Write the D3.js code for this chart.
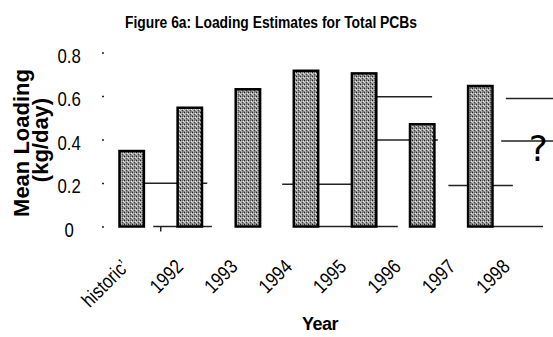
<!DOCTYPE html>
<html>
<head>
<meta charset="utf-8">
<script src="https://cdn.jsdelivr.net/npm/d3@7"></script>
<style>
  html, body { margin: 0; padding: 0; background: #fff; }
  svg { display: block; }
</style>
</head>
<body>
<svg id="chart" width="553" height="337"></svg>
<script>
// Categories and mean PCB loading estimates (kg/day); 1998 is unknown
const categories = ["historic\u2019", "1992", "1993", "1994", "1995", "1996", "1997", "1998"];
const loadings   = [0.347, 0.546, 0.631, 0.716, 0.704, 0.47, 0.646, null];
const yTicks     = [0, 0.2, 0.4, 0.6, 0.8];
const yTickLabels = ["0", "0.2", "0.4", "0.6", "0.8"];

// Reference levels: value and span in category steps (0 = first category centre)
const refLevels = [
  { value: 0.199, from: -0.2, to: 1.3 },
  { value: 0.194, from: 2.59, to: 4.22 },
  { value: 0.597, from: 4.2,  to: 5.17 },
  { value: 0.398, from: 4.2,  to: 5.27 },
  { value: 0.188, from: 5.45, to: 6.56 },
  { value: 0.589, from: 6.44, to: 7.5 },
  { value: 0.393, from: 6.36, to: 7.5 }
];
// Pieces of the zero line, in category steps
const baseLine = [
  { from: 0.37, to: 1.38 },
  { from: 3.0,  to: 4.58 },
  { from: 6.0,  to: 7.08 }
];
const unknownLabel = { category: "1998", value: 0.36, text: "?" };

const svg = d3.select("#chart");

const x = d3.scaleBand()
  .domain(categories)
  .range([102.65, 567.45])
  .paddingInner(0.58)
  .paddingOuter(0.29);
const y = d3.scaleLinear().domain([0, 0.8]).range([226.5, 52.5]);
const step = x.step();
const bw = x.bandwidth();
const x0 = x(categories[0]) + bw / 2;
const xu = u => x0 + u * step;
// Category labels sit on a slightly tighter spacing than the bars
const xLabel = d3.scalePoint().domain(categories).range([130, 511]);

// Dithered grey fill for the bars
const defs = svg.append("defs");
const pat = defs.append("pattern")
  .attr("id", "dither").attr("patternUnits", "userSpaceOnUse")
  .attr("width", 4).attr("height", 4);
pat.append("rect").attr("width", 4).attr("height", 4).attr("fill", "#9c9c9c");
[[0,0,"#222"],[2,2,"#444"],[1,3,"#f2f2f2"],[3,1,"#e4e4e4"],[2,0,"#666"],[0,2,"#d0d0d0"],[1,1,"#bbb"]].forEach(([px,py,c]) =>
  pat.append("rect").attr("x", px).attr("y", py).attr("width", 1).attr("height", 1).attr("fill", c));
pat.append("rect").attr("x", 0).attr("y", 3).attr("width", 4).attr("height", 0.6).attr("fill", "#333").attr("opacity", 0.5);

// Title
svg.append("text")
  .attr("x", 271).attr("y", 28)
  .attr("text-anchor", "middle")
  .attr("font-family", "Liberation Sans, Arial, sans-serif")
  .attr("font-weight", "bold").attr("font-size", 16)
  .attr("textLength", 292).attr("lengthAdjust", "spacingAndGlyphs")
  .text("Figure 6a: Loading Estimates for Total PCBs");

// Y axis ticks and labels
const yAxis = d3.axisLeft(y).tickValues(yTicks)
  .tickFormat((d, i) => yTickLabels[i]).tickSize(2).tickPadding(0);
const yg = svg.append("g").attr("transform", "translate(104,0)").call(yAxis);
yg.select(".domain").remove();
yg.selectAll(".tick line").attr("stroke", "#222").attr("stroke-width", 1.5);
yg.selectAll(".tick text")
  .attr("dy", "0.68em").attr("y", -4)
  .attr("text-anchor", "middle")
  .attr("font-family", "Liberation Sans, Arial, sans-serif")
  .attr("font-size", 20).attr("fill", "#000")
  .attr("transform", "translate(-12,0) scale(0.84,1)")
  .attr("x", -30 * 0.84 - 2);

// Y axis title
const yt = svg.append("g").attr("font-family", "Liberation Sans, Arial, sans-serif")
  .attr("font-weight", "bold").attr("text-anchor", "middle");
yt.append("text").attr("transform", "translate(29,143) rotate(-90)")
  .attr("font-size", 22).text("Mean Loading");
yt.append("text").attr("transform", "translate(48,140) rotate(-90)")
  .attr("font-size", 22).text("(kg/day)");

// Reference levels
svg.append("g").selectAll("line").data(refLevels).join("line")
  .attr("x1", d => xu(d.from)).attr("x2", d => xu(d.to))
  .attr("y1", d => y(d.value)).attr("y2", d => y(d.value))
  .attr("stroke", "#222").attr("stroke-width", 1.5);

// Zero line pieces and the single x tick
svg.append("g").selectAll("line").data(baseLine).join("line")
  .attr("x1", d => xu(d.from)).attr("x2", d => xu(d.to))
  .attr("y1", y(0)).attr("y2", y(0))
  .attr("stroke", "#222").attr("stroke-width", 1.5);
svg.append("line")
  .attr("x1", xu(0.5)).attr("x2", xu(0.5))
  .attr("y1", y(0)).attr("y2", y(0) + 5)
  .attr("stroke", "#222").attr("stroke-width", 1.5);

// Bars
const barData = categories.map((c, i) => ({ c, v: loadings[i] })).filter(d => d.v != null);
svg.append("g").selectAll("rect").data(barData).join("rect")
  .attr("x", d => x(d.c)).attr("width", bw)
  .attr("y", d => y(d.v)).attr("height", d => y(0) - y(d.v))
  .attr("fill", "url(#dither)")
  .attr("stroke", "#000").attr("stroke-width", 2.5);

// Unknown value marker
svg.append("text")
  .attr("x", x(unknownLabel.category) + bw / 2).attr("y", y(unknownLabel.value))
  .attr("text-anchor", "middle").attr("dy", "0.36em")
  .attr("font-family", "DejaVu Sans, sans-serif").attr("font-size", 36)
  .text(unknownLabel.text);

// Category labels, rotated
svg.append("g").selectAll("text").data(categories).join("text")
  .attr("transform", d => `translate(${xLabel(d)},268) rotate(-45) scale(0.84,1)`)
  .attr("text-anchor", "end")
  .attr("font-family", "Liberation Sans, Arial, sans-serif")
  .attr("font-size", 20).attr("fill", "#000")
  .text(d => d);

// X axis title
svg.append("text")
  .attr("x", 320).attr("y", 330)
  .attr("text-anchor", "middle")
  .attr("font-family", "Liberation Sans, Arial, sans-serif")
  .attr("font-weight", "bold").attr("font-size", 18)
  .style("letter-spacing", "-0.5px")
  .text("Year");
</script>
</body>
</html>
